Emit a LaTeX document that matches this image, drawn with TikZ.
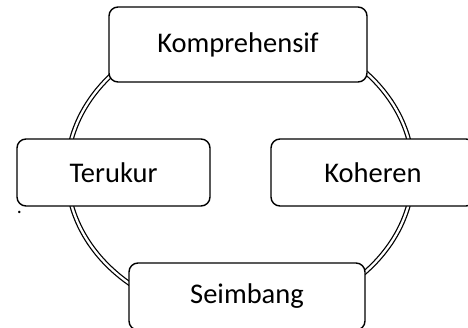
\documentclass[tikz,border=0pt]{standalone}
\usepackage{fontspec}
\setmainfont{Carlito}
\begin{document}
\begin{tikzpicture}[x=1pt,y=-1pt,
  cyclebox/.style={draw=black, line width=1.4pt, fill=white,
    rounded corners=9pt, inner sep=0pt, minimum height=67pt,
    font=\fontsize{28.5}{30}\selectfont},
  ring/.style={draw=black, line width=1.25pt, double=white, double distance=2.3pt}]
\useasboundingbox (0,0) rectangle (468,327);
\clip (0,0) rectangle (468,327);
% the cycle ring behind the four stages
\coordinate (hub) at (240,172);
\draw[ring] (hub) ellipse [x radius=173pt, y radius=145pt];
% the four stages
\node[cyclebox, minimum width=258pt, minimum height=75pt] (komp) at (238,44.5) {Komprehensif};
\node[cyclebox, minimum width=193pt] (teru) at (113.5,172.5) {Terukur};
\node[cyclebox, minimum width=204pt] (kohe) at (373,172.5) {Koheren};
\node[cyclebox, minimum width=236pt] (seim) at (247,296.5) {Seimbang};
% stray full stop below the left box
\node[inner sep=0pt, font=\fontsize{20}{20}\selectfont] (stop) at (19.5,212) {.};
\end{tikzpicture}
\end{document}
